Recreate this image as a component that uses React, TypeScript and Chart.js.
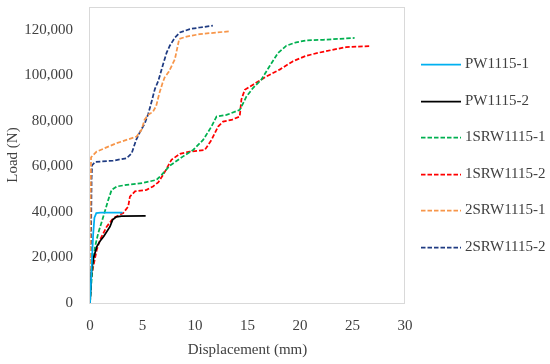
import React, { useEffect, useRef } from "react";
import { Chart, registerables } from "chart.js";

Chart.register(...registerables);

const seriesNames = ["PW1115-1", "PW1115-2", "1SRW1115-1", "1SRW1115-2", "2SRW1115-1", "2SRW1115-2"];
const seriesColors = ["#00B0F0", "#000000", "#00B050", "#FF0000", "#F7964A", "#1F3B82"];
const seriesDashed = [false, false, true, true, true, true];

const pw1X = [0, 0.1, 0.2, 0.3, 0.42, 0.6, 1.0, 3.1];
const pw1Y = [0, 10000, 20000, 30000, 37500, 39500, 39700, 39700];

const pw2X = [0, 0.15, 0.35, 0.65, 1.0, 1.3, 1.9, 2.15, 2.5, 3.0, 5.3];
const pw2Y = [0, 14500, 20000, 24800, 27500, 29200, 33500, 36500, 37800, 38200, 38300];

const s1X = [0, 0.22, 0.48, 0.79, 1.27, 1.74, 2.06, 2.54, 3.49, 5.07, 6.34, 6.82, 7.6, 8.87, 9.82, 10.77, 11.57, 12.05, 13.0, 14.26, 14.58, 14.9, 15.52, 16.32, 17.1, 17.9, 18.7, 19.65, 20.6, 22.2, 23.76, 25.2];
const s1Y = [0, 14650, 24750, 30800, 37950, 45300, 49700, 51150, 51900, 52750, 54100, 56300, 60300, 64400, 67200, 71600, 77500, 81900, 82600, 84800, 87700, 90700, 94400, 98100, 104000, 109800, 113000, 114500, 115300, 115600, 116000, 116400];

const s2X = [0, 0.1, 0.31, 0.64, 0.95, 1.59, 2.22, 3.17, 3.64, 3.8, 4.28, 5.39, 6.0, 6.5, 6.97, 7.76, 8.56, 9.5, 10.93, 11.57, 12.2, 12.67, 13.47, 14.26, 14.42, 14.74, 15.53, 16.8, 18.06, 19.3, 20.6, 21.86, 23.1, 24.4, 26.6];
const s2Y = [0, 10100, 15950, 23300, 27700, 33550, 37250, 39550, 42350, 46700, 49000, 49700, 51200, 53000, 56300, 62900, 65500, 66500, 67200, 71600, 77500, 79700, 80400, 81900, 89400, 93600, 95900, 99500, 102500, 106100, 108600, 110000, 111200, 112400, 112800];

const d1X = [0, 0.05, 0.1, 0.63, 2.54, 4.44, 4.9, 5.2, 5.5, 6.0, 6.3, 6.6, 6.9, 7.1, 7.5, 8.08, 8.5, 9.2, 10.46, 13.24];
const d1Y = [0, 40000, 64000, 66500, 70200, 73100, 76000, 80500, 82500, 84000, 86500, 92000, 96500, 99000, 101500, 107000, 116000, 117000, 118100, 119300];

const d2X = [0, 0.1, 0.15, 0.2, 0.5, 2.2, 3.5, 3.97, 4.4, 4.75, 5.23, 5.54, 5.87, 6.18, 6.5, 6.97, 7.3, 7.6, 8.08, 8.56, 9.5, 10.46, 11.7];
const d2Y = [0, 30000, 55000, 60500, 62000, 62500, 63600, 65800, 71700, 75000, 79000, 83000, 88500, 94000, 97500, 105000, 110000, 113000, 116500, 118800, 120300, 121000, 121800];

const seriesX = [pw1X, pw2X, s1X, s2X, d1X, d2X];
const seriesY = [pw1Y, pw2Y, s1Y, s2Y, d1Y, d2Y];

const yTickValues = [0, 20000, 40000, 60000, 80000, 100000, 120000];

const FONT = "'Liberation Serif', 'Times New Roman', serif";
const TEXT_COLOR = "#404040";
const DASH = [4.5, 2];

const frameAndLegend = {
  id: "frameAndLegend",
  beforeDatasetsDraw(chart: any) {
    const { ctx, chartArea } = chart;
    ctx.save();
    ctx.strokeStyle = "#D9D9D9";
    ctx.lineWidth = 1;
    ctx.strokeRect(
      Math.round(chartArea.left) - 0.5,
      Math.round(chartArea.top) + 0.5,
      Math.round(chartArea.right - chartArea.left),
      Math.round(chartArea.bottom - chartArea.top)
    );
    ctx.restore();
  },
  afterDraw(chart: any) {
    const { ctx } = chart;
    ctx.save();
    const x0 = 421;
    const x1 = 461;
    const tx = 465;
    const y0 = 64;
    const dy = 36.6;
    ctx.font = `15px ${FONT}`;
    ctx.textBaseline = "middle";
    ctx.textAlign = "left";
    chart.data.datasets.forEach((ds: any, i: number) => {
      const y = Math.round(y0 + i * dy) + 0.5;
      ctx.strokeStyle = ds.borderColor;
      ctx.lineWidth = 1.75;
      ctx.setLineDash(ds.borderDash || []);
      ctx.beginPath();
      ctx.moveTo(x0, y);
      ctx.lineTo(x1, y);
      ctx.stroke();
      ctx.setLineDash([]);
      ctx.fillStyle = TEXT_COLOR;
      ctx.fillText(ds.label, tx, y);
    });
    ctx.restore();
  },
};

export default function App() {
  const canvasRef = useRef<HTMLCanvasElement | null>(null);

  useEffect(() => {
    if (!canvasRef.current) return;
    const datasets = seriesNames.map((name, i) => ({
      label: name,
      data: seriesX[i].map((x, j) => ({ x, y: seriesY[i][j] })),
      borderColor: seriesColors[i],
      backgroundColor: seriesColors[i],
      borderWidth: 1.75,
      borderDash: seriesDashed[i] ? DASH : [],
      showLine: true,
      pointRadius: 0,
      pointHoverRadius: 0,
      fill: false,
      tension: 0,
    }));

    const chart = new Chart(canvasRef.current, {
      type: "scatter",
      data: { datasets },
      options: {
        animation: false,
        responsive: false,
        maintainAspectRatio: false,
        layout: { padding: { left: 0, right: 145, top: 7, bottom: 0 } },
        plugins: {
          legend: { display: false },
          tooltip: { enabled: false },
        },
        scales: {
          x: {
            type: "linear",
            min: 0,
            max: 30,
            grid: { display: false, drawTicks: false },
            border: { display: false },
            ticks: {
              stepSize: 5,
              padding: 14,
              color: TEXT_COLOR,
              font: { family: FONT, size: 15 },
              maxRotation: 0,
            },
            title: {
              display: true,
              text: "Displacement (mm)",
              color: TEXT_COLOR,
              font: { family: FONT, size: 15 },
              padding: { top: 0, bottom: 5 },
            },
            afterFit: (scale: any) => {
              scale.height = 61;
              scale.paddingLeft = 0;
              scale.paddingRight = 0;
              scale.paddingTop = 0;
              scale.paddingBottom = 0;
            },
          },
          y: {
            type: "linear",
            min: 0,
            max: 130000,
            grid: { display: false, drawTicks: false },
            border: { display: false },
            afterBuildTicks: (scale: any) => {
              scale.ticks = yTickValues.map((v) => ({ value: v }));
            },
            ticks: {
              padding: 17,
              color: TEXT_COLOR,
              font: { family: FONT, size: 15 },
              callback: (v: any) => Number(v).toLocaleString("en-US"),
            },
            title: {
              display: true,
              text: "Load (N)",
              color: TEXT_COLOR,
              font: { family: FONT, size: 15 },
              padding: { top: 4, bottom: 0 },
            },
            afterFit: (scale: any) => {
              scale.width = 90;
              scale.paddingLeft = 0;
              scale.paddingRight = 0;
              scale.paddingTop = 0;
              scale.paddingBottom = 0;
            },
          },
        },
      },
      plugins: [frameAndLegend],
    } as any);

    return () => chart.destroy();
  }, []);

  return (
    <div style={{ position: "absolute", left: 0, top: 0, width: 550, height: 364, background: "#fff" }}>
      <canvas ref={canvasRef} width={550} height={364} style={{ width: 550, height: 364, display: "block" }} />
    </div>
  );
}
